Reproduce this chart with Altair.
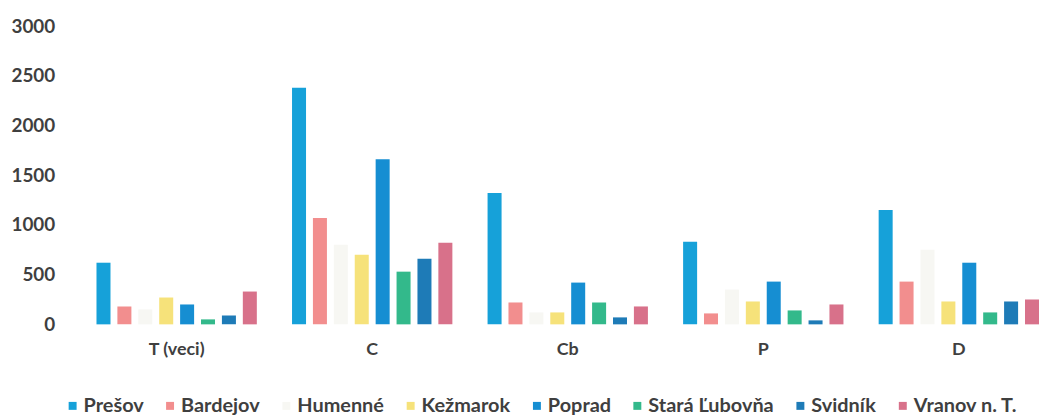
import altair as alt
import pandas as pd

categories = ["T (veci)", "C", "Cb", "P", "D"]
series = ["Prešov", "Bardejov", "Humenné", "Kežmarok", "Poprad", "Stará Ľubovňa", "Svidník", "Vranov n. T."]
colors = ["#16a1d9", "#f28e8e", "#f7f7f3", "#f6e27a", "#168ed2", "#33b98b", "#1e7bb7", "#d8718a"]

values = {
    "Prešov":        [620, 2380, 1320, 830, 1150],
    "Bardejov":      [180, 1070, 220, 110, 430],
    "Humenné":       [150, 800, 120, 350, 750],
    "Kežmarok":      [270, 700, 120, 230, 230],
    "Poprad":        [200, 1660, 420, 430, 620],
    "Stará Ľubovňa": [50, 530, 220, 140, 120],
    "Svidník":       [90, 660, 70, 40, 230],
    "Vranov n. T.":  [330, 820, 180, 200, 250],
}

rows = []
for s in series:
    for c, v in zip(categories, values[s]):
        rows.append({"kat": c, "okres": s, "pocet": v})
df = pd.DataFrame(rows)

font = "Lato"
chart = alt.Chart(df).mark_bar().encode(
    x=alt.X("kat:N", sort=categories, title=None,
            scale=alt.Scale(paddingInner=0.18, paddingOuter=0),
            axis=alt.Axis(labelAngle=0, labelFont=font, labelFontSize=18, labelFontWeight="bold",
                          labelColor="#3f3f3f", domain=False, ticks=False, labelPadding=16)),
    xOffset=alt.XOffset("okres:N", sort=series, scale=alt.Scale(paddingInner=0.33, paddingOuter=0)),
    y=alt.Y("pocet:Q", title=None, scale=alt.Scale(domain=[0, 3000]),
            axis=alt.Axis(values=[0, 500, 1000, 1500, 2000, 2500, 3000], format="d", grid=False,
                          domain=False, ticks=False, labelFont=font, labelFontSize=19,
                          labelFontWeight="bold", labelColor="#3f3f3f", labelPadding=42)),
    color=alt.Color("okres:N", sort=series, scale=alt.Scale(domain=series, range=colors),
                    legend=alt.Legend(title=None, orient="none", direction="horizontal", columns=8,
                                      legendX=-34, legendY=372, symbolType="square", symbolSize=64,
                                      labelFont=font, labelFontSize=20, labelFontWeight="bold",
                                      labelColor="#3f3f3f", columnPadding=16, labelOffset=1)),
).properties(
    width=948, height=300,
    autosize=alt.AutoSizeParams(type="none"),
    padding={"left": 89, "top": 17, "right": 0, "bottom": 93},
).configure_view(stroke=None)

chart.save("out.html", embed_options={"renderer": "svg", "actions": False})
